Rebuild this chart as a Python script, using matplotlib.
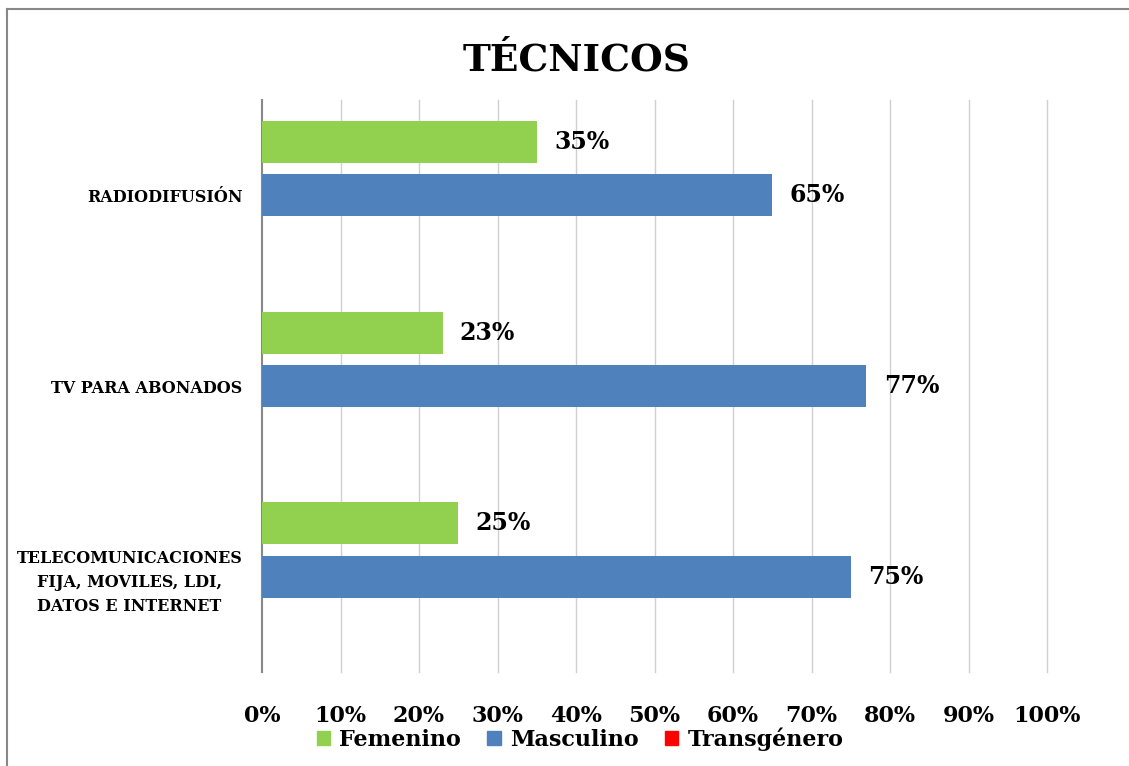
import matplotlib.pyplot as plt
from matplotlib.lines import Line2D
from matplotlib.patches import Patch
import numpy as np

categories = ["RADIODIFUSIÓN", "TV PARA ABONADOS",
              "TELECOMUNICACIONES\nFIJA, MOVILES, LDI,\nDATOS E INTERNET"]
series = ["Femenino", "Masculino", "Transgénero"]
femenino = [35, 23, 25]
masculino = [65, 77, 75]
transgenero = [0, 0, 0]
colors = ["#92D050", "#4F81BD", "#FF0000"]
ticks = [0, 10, 20, 30, 40, 50, 60, 70, 80, 90, 100]

plt.rcParams['font.family'] = ['DejaVu Serif']
W, H = 1129, 766
fig = plt.figure(figsize=(W / 100, H / 100), dpi=100)
ax = fig.add_axes([262 / W, 1 - 672 / H, (1047 - 262) / W, (672 - 100) / H])

y = np.array([2, 1, 0])
step = 0.28
bh = 0.22
values = [femenino, masculino, transgenero]
for i, (name, vals, c) in enumerate(zip(series, values, colors)):
    pos = y + step * (1 - i)
    ax.barh(pos, vals, height=bh, color=c, zorder=3)
    for p, v in zip(pos, vals):
        if v > 0:
            ax.text(v + 2.2, p, f"{v}%", va='center', ha='left',
                    fontsize=17, fontweight='bold', zorder=4)

ax.set_xlim(0, 100)
ax.set_ylim(-0.5, 2.5)
ax.set_xticks(ticks)
ax.set_xticklabels([f"{t}%" for t in ticks], fontsize=16, fontweight='bold')
ax.set_yticks(y)
ax.set_yticklabels(categories, fontsize=11.5, fontweight='bold',
                   multialignment='center', linespacing=1.55)
ax.tick_params(axis='x', length=0, pad=24)
ax.tick_params(axis='y', length=0, pad=14)
for t in ticks[1:]:
    ax.axvline(t, color='#d0d0d0', linewidth=1, zorder=0, clip_on=False)
for s in ['top', 'right', 'bottom']:
    ax.spines[s].set_visible(False)
ax.spines['left'].set_color('#888888')
ax.spines['left'].set_linewidth(1.5)

handles = [Patch(color=c) for c in colors]
fig.legend(handles, series, loc='center', bbox_to_anchor=(580 / W, 1 - 739 / H),
           ncol=3, frameon=False, prop={'size': 16, 'weight': 'bold'},
           handlelength=0.6, handleheight=0.6, handletextpad=0.4, columnspacing=1.2)

fig.text(577 / W, 1 - 60 / H, "TÉCNICOS", ha='center', va='center',
         fontsize=27, fontweight='bold')

fig.add_artist(Line2D([7 / W, 1], [1 - 9 / H, 1 - 9 / H], color='#888888', linewidth=1.5))
fig.add_artist(Line2D([7 / W, 7 / W], [0, 1 - 9 / H], color='#888888', linewidth=1.5))

fig.savefig("out.png", dpi=100)
